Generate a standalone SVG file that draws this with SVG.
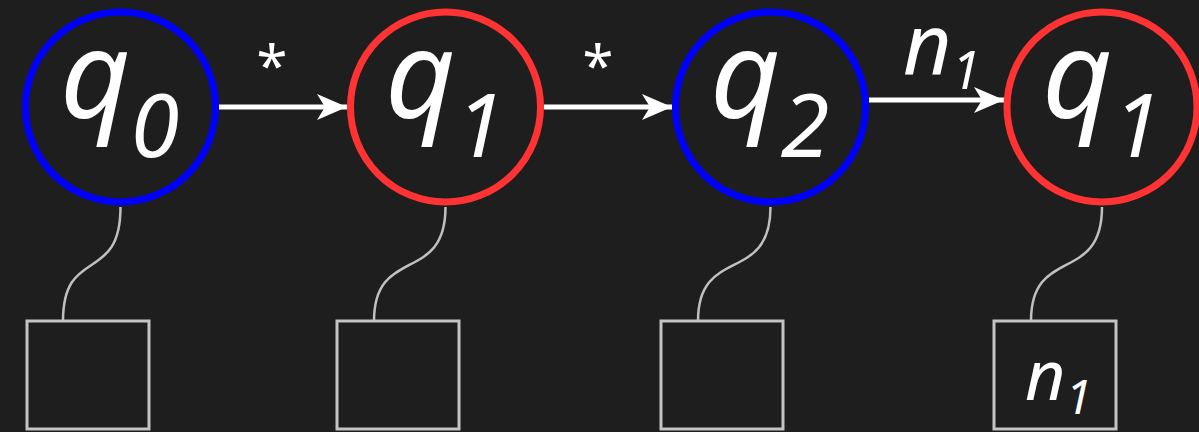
<svg xmlns="http://www.w3.org/2000/svg" width="1199" height="432" viewBox="0 0 1199 432">
<defs>
<marker id="ah" viewBox="0 0 30 26" refX="30" refY="13" markerWidth="30" markerHeight="26" markerUnits="userSpaceOnUse" orient="auto">
<path d="M0,0 L30,13 L0,26 L8,13 Z" fill="#ffffff"/>
</marker>
<style>
.st{fill:#1e1e1e;stroke-width:7}
.blue{stroke:#0000ff}
.red{stroke:#ff3333}
.lbl{font-family:"Noto Sans",sans-serif;font-style:italic;fill:#ffffff}
.big{font-size:122px}
.sub{font-size:88px}
.edge{stroke:#ffffff;stroke-width:5;fill:none;marker-end:url(#ah)}
.tie{stroke:#c0c0c0;stroke-width:2.5;fill:none}
.box{fill:#1e1e1e;stroke:#c4c4c4;stroke-width:3}
.star{font-family:"Noto Sans",sans-serif;font-size:56px;fill:#ffffff}
</style>
</defs>
<rect width="1199" height="432" fill="#1e1e1e"/>
<g id="connectors">
<path class="edge" d="M219,107 L347,107"/>
<path class="edge" d="M544,107 L672,107"/>
<path class="edge" d="M869,100 L1004,100"/>
<text class="star" x="272" y="86" text-anchor="middle">*</text>
<text class="star" x="598" y="86" text-anchor="middle">*</text>
<text class="lbl" x="903" y="75" font-size="84">n<tspan font-size="52" dy="14">1</tspan></text>
<path class="tie" d="M120.5,207 C120.5,285 63,245 63,321"/>
<path class="tie" d="M445.5,207 C445.5,285 374,245 374,321"/>
<path class="tie" d="M770.5,207 C770.5,285 698,245 698,321"/>
<path class="tie" d="M1102,207 C1102,285 1031,245 1031,321"/>
</g>
<g id="n0">
<circle class="st blue" cx="120.5" cy="107" r="95"/>
<text class="lbl big" x="60" y="118">q<tspan class="sub" dy="39">0</tspan></text>
</g>
<g id="n1">
<circle class="st red" cx="445.5" cy="107" r="95"/>
<text class="lbl big" x="385" y="118">q<tspan class="sub" dy="39">1</tspan></text>
</g>
<g id="n2">
<circle class="st blue" cx="770.5" cy="107" r="95"/>
<text class="lbl big" x="710" y="118">q<tspan class="sub" dy="39">2</tspan></text>
</g>
<g id="n3">
<circle class="st red" cx="1102" cy="107" r="95"/>
<text class="lbl big" x="1042" y="118">q<tspan class="sub" dy="39">1</tspan></text>
</g>
<g id="b0"><rect class="box" x="27" y="321" width="122" height="108"/></g>
<g id="b1"><rect class="box" x="337" y="321" width="122" height="108"/></g>
<g id="b2"><rect class="box" x="661" y="321" width="122" height="108"/></g>
<g id="b3"><rect class="box" x="994" y="321" width="122" height="108"/>
<text class="lbl" x="1025" y="400" font-size="70">n<tspan font-size="48" dy="14">1</tspan></text></g>
</svg>
